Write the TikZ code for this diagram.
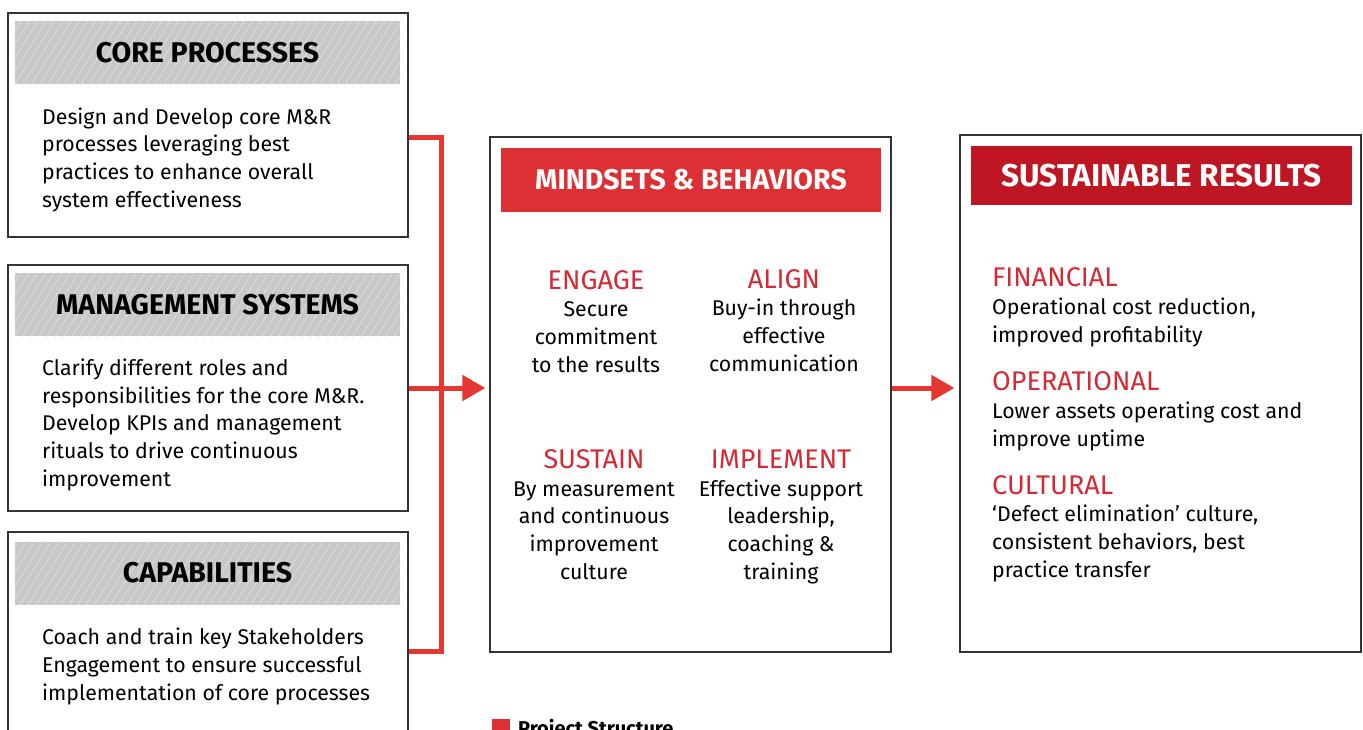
\documentclass[tikz,border=0pt]{standalone}
\usepackage{fontspec}
\setmainfont{Fira Sans}
\usetikzlibrary{arrows.meta,patterns.meta}
\definecolor{linkred}{HTML}{E5362F}
\definecolor{mindred}{HTML}{DC3035}
\definecolor{resred}{HTML}{BE1622}
\definecolor{catred}{HTML}{D42A35}
\definecolor{hatchgray}{HTML}{C8C8C8}
\definecolor{hatchline}{HTML}{DEDEDE}
\definecolor{edge}{HTML}{333333}
\newcommand{\cat}[1]{{\color{catred}\fontsize{27}{28}\selectfont #1}}
\begin{document}
\begin{tikzpicture}[x=1pt,y=-1pt,%
% common options for the outlined panels:
panel/.style = {draw=edge, line width=1.3pt, fill=white, inner sep=0},
% common options for the grey headers:
hatchhdr/.style = {fill=hatchgray, minimum width=385pt, minimum height=63pt, inner sep=0,
            postaction={pattern={Lines[angle=58,distance=7pt,line width=0.8pt]}, pattern color=hatchline},
            font=\fontsize{28.5}{32}\selectfont\bfseries},
% common options for the red headers:
redhdr/.style = {inner sep=0, text=white, font=\fontsize{28.5}{32}\selectfont\bfseries},
% common options for the texts (anchored at the last line):
bodytxt/.style = {align=left, anchor=base west, inner sep=0, font=\fontsize{21.3}{27.6}\selectfont},
quad/.style = {align=center, anchor=base, inner sep=0, font=\fontsize{21.3}{27.6}\selectfont},
link/.style = {draw=linkred, line width=5pt},
linkarrow/.style = {link, -{Triangle[length=23pt,width=25pt]}}]
\useasboundingbox (0,0) rectangle (1363,729);
\clip (0,0) rectangle (1363,729);
% left column
\node[panel, minimum width=400pt, minimum height=224pt] (core) at (208,125) {};
\node[panel, minimum width=400pt, minimum height=246pt] (mgmt) at (208,388) {};
\node[panel, minimum width=400pt, minimum height=233pt] (capa) at (208,648.5) {};
\node[hatchhdr] (coreh) at (207.5,52.5) {CORE PROCESSES};
\node[hatchhdr] (mgmth) at (207.5,304.5) {MANAGEMENT SYSTEMS};
\node[hatchhdr] (capah) at (207.5,573) {CAPABILITIES};
\node[bodytxt] (coret) at (42,207) {Design and Develop core M\&R\\processes leveraging best\\practices to enhance overall\\system effectiveness};
\node[bodytxt] (mgmtt) at (42,486) {Clarify different roles and\\responsibilities for the core M\&R.\\Develop KPIs and management\\rituals to drive continuous\\improvement};
\node[bodytxt] (capat) at (42,700) {Coach and train key Stakeholders\\Engagement to ensure successful\\implementation of core processes};
% middle panel
\node[panel, minimum width=401pt, minimum height=515pt] (mind) at (690.5,394.5) {};
\node[redhdr, fill=mindred, minimum width=380pt, minimum height=64pt] (mindh) at (691,180) {MINDSETS \& BEHAVIORS};
\node[quad] (engage) at (596,372) {\cat{ENGAGE}\\Secure\\commitment\\to the results};
\node[quad] (align) at (784,371) {\cat{ALIGN}\\Buy-in through\\effective\\communication};
\node[quad] (sustain) at (594,579) {\cat{SUSTAIN}\\By measurement\\and continuous\\improvement\\culture};
\node[quad] (implement) at (781,579) {\cat{IMPLEMENT}\\Effective support\\leadership,\\coaching \&\\training};
% right panel
\node[panel, minimum width=401pt, minimum height=517pt] (res) at (1160.5,393.5) {};
\node[redhdr, fill=resred, minimum width=381pt, minimum height=59pt, font=\fontsize{31.5}{34}\selectfont\bfseries] (resh) at (1161.5,175.5) {SUSTAINABLE RESULTS};
\node[bodytxt] (fin) at (992,342) {\cat{FINANCIAL}\\Operational cost reduction,\\improved profitability};
\node[bodytxt] (ops) at (992,446) {\cat{OPERATIONAL}\\Lower assets operating cost and\\improve uptime};
\node[bodytxt] (cult) at (992,577) {\cat{CULTURAL}\\‘Defect elimination’ culture,\\consistent behaviors, best\\practice transfer};
% connectors
\coordinate (jn) at (441,388);
\draw[link] ([yshift=-12pt]core.east) -| (jn) |- ([yshift=-2.5pt]capa.east);
\draw[linkarrow, shorten >=4pt] (mgmt.east) -- (mgmt.east -| mind.west);
\draw[linkarrow, shorten >=5pt] (mind.east |- mgmt.east) -- (res.west |- mgmt.east);
% legend
\node[fill=mindred, minimum size=18pt, inner sep=0, anchor=north west] (key) at (492,719) {};
\node[anchor=base west, inner sep=0, font=\fontsize{20}{24}\selectfont\bfseries] (keyt) at (518,735) {Project Structure};
\end{tikzpicture}
\end{document}
